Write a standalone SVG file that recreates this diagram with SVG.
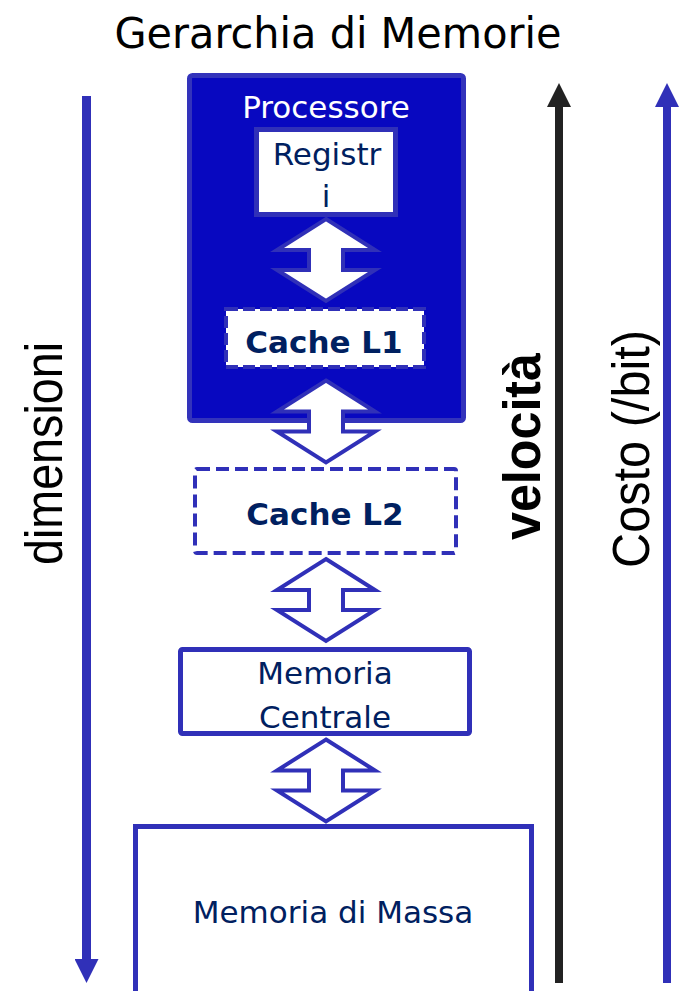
<svg xmlns="http://www.w3.org/2000/svg" width="679" height="991" viewBox="0 0 679 991">
  <style>
    .box { fill: #ffffff; stroke: #3030b8; stroke-width: 5; }
    .dash { fill: #ffffff; stroke: #3030b8; stroke-width: 4; }
    .lbl { font-family: "DejaVu Sans", Verdana, sans-serif; font-size: 31px; fill: #002060; text-anchor: middle; }
    .bold { font-weight: bold; }
    .axis { font-family: "Liberation Sans Narrow", "Liberation Sans", Arial, sans-serif; font-size: 51px; fill: #000000; text-anchor: middle; }
    .dbl { fill: #ffffff; stroke: #3030b8; stroke-width: 4; stroke-linejoin: miter; }
  </style>
  <defs>
    <path id="dblArrow" d="M0,-41 L49,-10 L17,-10 L17,10 L49,10 L0,41 L-49,10 L-17,10 L-17,-10 L-49,-10 Z"/>
    <marker id="headBlue" viewBox="0 0 24 24" refX="0" refY="12" markerWidth="24" markerHeight="24" markerUnits="userSpaceOnUse" orient="auto">
      <path d="M0,0 L24,12 L0,24 Z" fill="#3030b8"/>
    </marker>
    <marker id="headBlack" viewBox="0 0 24 24" refX="0" refY="12" markerWidth="24" markerHeight="24" markerUnits="userSpaceOnUse" orient="auto">
      <path d="M0,0 L24,12 L0,24 Z" fill="#222222"/>
    </marker>
  </defs>
  <rect width="679" height="991" fill="#ffffff"/>

  <g id="title">
    <text x="338" y="48" font-family="DejaVu Sans, Verdana, sans-serif" font-size="43" fill="#000000" text-anchor="middle" textLength="447" lengthAdjust="spacingAndGlyphs">Gerarchia di Memorie</text>
  </g>

  <g id="processore">
    <rect x="189.5" y="75.5" width="274" height="345" rx="3" fill="#0808c0" stroke="#3333bb" stroke-width="5"/>
    <text class="lbl" x="326" y="118" fill="#ffffff" style="fill:#ffffff">Processore</text>
  </g>

  <g id="registri">
    <rect class="box" x="256.5" y="129.5" width="139" height="85" stroke="#3333bb"/>
    <text class="lbl" x="327" y="165">Registr</text>
    <text class="lbl" x="326" y="207">i</text>
  </g>

  <g id="cache-l1">
    <rect class="dash" x="226" y="309" width="198" height="58" stroke-dasharray="12 5"/>
    <text class="lbl bold" x="324" y="353">Cache L1</text>
  </g>

  <g id="cache-l2">
    <rect class="dash" x="195" y="469" width="261" height="84" rx="2" stroke-dasharray="13 6"/>
    <text class="lbl bold" x="325" y="525">Cache L2</text>
  </g>

  <g id="memoria-centrale">
    <rect class="box" x="180.5" y="649.5" width="289" height="84" rx="2"/>
    <text class="lbl" x="325" y="684">Memoria</text>
    <text class="lbl" x="325" y="728">Centrale</text>
  </g>

  <g id="memoria-massa">
    <rect class="box" x="135.5" y="826.5" width="396" height="200"/>
    <text class="lbl" x="333" y="923">Memoria di Massa</text>
  </g>

  <g id="connectors">
    <use href="#dblArrow" class="dbl" x="326" y="260"/>
    <use href="#dblArrow" class="dbl" x="326" y="421.5"/>
    <use href="#dblArrow" class="dbl" x="326" y="600"/>
    <use href="#dblArrow" class="dbl" x="326" y="780.5"/>
  </g>

  <g id="axes">
    <line x1="86.5" y1="96" x2="86.5" y2="959" stroke="#3030b8" stroke-width="9" marker-end="url(#headBlue)"/>
    <line x1="559" y1="983" x2="559" y2="107" stroke="#222222" stroke-width="8" marker-end="url(#headBlack)"/>
    <line x1="667" y1="983" x2="667" y2="107" stroke="#3030b8" stroke-width="8" marker-end="url(#headBlue)"/>
  </g>

  <g id="axis-labels">
    <text class="axis" transform="translate(62,453.5) rotate(-90)" textLength="223" lengthAdjust="spacingAndGlyphs">dimensioni</text>
    <text class="axis" transform="translate(540,446.5) rotate(-90)" font-weight="bold" textLength="187" lengthAdjust="spacingAndGlyphs">velocità</text>
    <text class="axis" transform="translate(649,449) rotate(-90)" textLength="238" lengthAdjust="spacingAndGlyphs">Costo (/bit)</text>
  </g>
</svg>
